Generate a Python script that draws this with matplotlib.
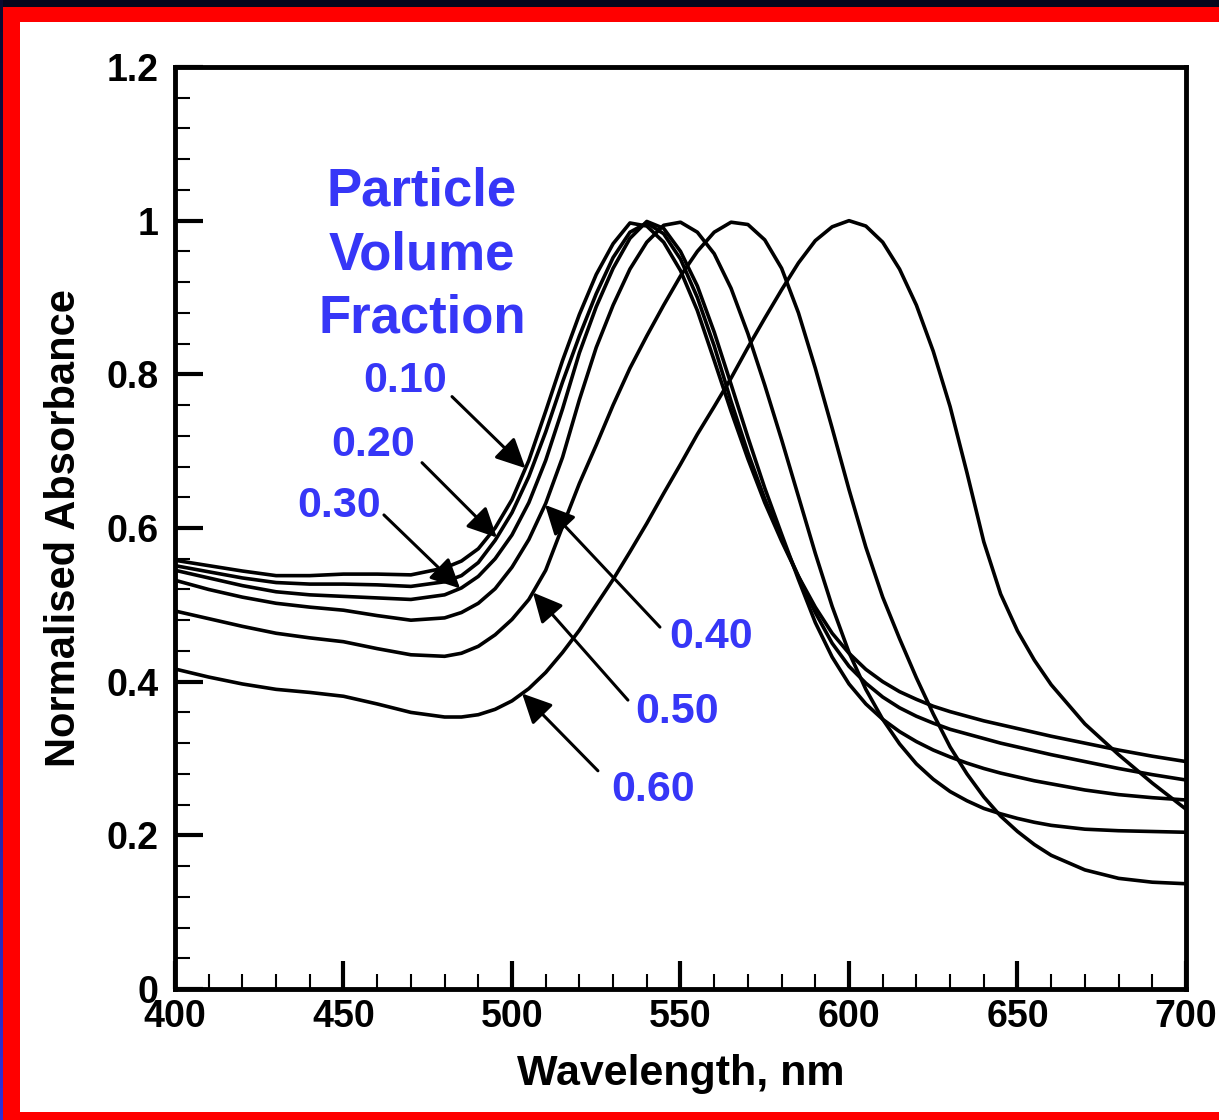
import numpy as np
import matplotlib
matplotlib.use('Agg')
import matplotlib.pyplot as plt
from matplotlib.patches import Rectangle

plt.rcParams['font.family'] = ['Liberation Sans', 'DejaVu Sans']
plt.rcParams['font.weight'] = 'bold'

# wavelength grid (nm)
wl = [400, 410, 420, 430, 440, 450, 460, 470, 480, 485, 490, 495, 500, 505, 510, 515,
      520, 525, 530, 535, 540, 545, 550, 555, 560, 565, 570, 575, 580, 585, 590, 595,
      600, 605, 610, 615, 620, 625, 630, 635, 640, 645, 650, 655, 660, 670, 680, 690, 700]

# normalised absorbance, one list per particle volume fraction
vf_010 = [.558, .551, .544, .538, .538, .540, .540, .539, .548, .557, .573, .600, .637, .688, .752, .818,
          .878, .930, .970, .997, .993, .972, .935, .883, .818, .752, .690, .633, .583, .537, .497, .463,
          .437, .416, .400, .387, .377, .368, .361, .355, .349, .344, .339, .334, .329, .320, .311, .303, .296]
vf_020 = [.551, .543, .535, .529, .527, .527, .526, .524, .530, .538, .555, .584, .620, .667, .725, .790,
          .850, .905, .952, .985, .997, .983, .950, .900, .837, .765, .698, .638, .586, .537, .490, .450,
          .420, .398, .380, .366, .355, .346, .338, .332, .326, .320, .315, .310, .305, .296, .287, .279, .272]
vf_030 = [.545, .535, .525, .517, .513, .511, .509, .507, .513, .522, .537, .560, .591, .633, .688, .755,
          .828, .888, .938, .977, .999, .990, .960, .915, .855, .787, .718, .652, .592, .533, .477, .432,
          .397, .371, .351, .335, .322, .311, .302, .294, .287, .281, .276, .271, .267, .259, .253, .249, .246]
vf_040 = [.532, .520, .510, .502, .497, .493, .486, .480, .483, .490, .502, .521, .549, .585, .632, .692,
          .767, .835, .890, .937, .972, .994, .998, .985, .957, .912, .853, .786, .715, .641, .567, .498,
          .438, .390, .351, .319, .293, .273, .257, .245, .235, .228, .222, .217, .213, .208, .206, .205, .204]
vf_050 = [.492, .482, .472, .463, .457, .452, .443, .435, .433, .437, .446, .461, .481, .507, .545, .602,
          .658, .708, .760, .808, .850, .890, .928, .960, .985, .998, .995, .975, .938, .880, .808, .730,
          .650, .575, .510, .456, .405, .358, .315, .280, .250, .225, .205, .188, .174, .155, .144, .139, .137]
vf_060 = [.4165, .406, .397, .390, .386, .381, .371, .360, .354, .354, .357, .364, .375, .391, .412, .438,
          .467, .500, .533, .569, .606, .645, .683, .722, .758, .795, .835, .873, .910, .945, .974, .992,
          1.0, .993, .972, .937, .890, .830, .758, .672, .582, .514, .466, .428, .396, .345, .305, .268, .234]

series = [vf_010, vf_020, vf_030, vf_040, vf_050, vf_060]
labels = ['0.10', '0.20', '0.30', '0.40', '0.50', '0.60']
# label text position, arrow tail, arrow tip wavelength
label_pos = [(468.2, .791), (458.8, .708), (448.7, .629), (559.1, .458), (549.0, .361), (541.8, .259)]
arrow_tail = [(482.2, .771), (473.3, .685), (462.0, .617), (543.9, .471), (534.4, .376), (525.5, .284)]
arrow_tip_wl = [504.0, 495.5, 484.6, 509.8, 506.2, 503.0]

blue = '#3636f7'
W, H = 1219, 1120

fig = plt.figure(figsize=(W / 100, H / 100), dpi=100)
fig.patch.set_facecolor('white')

def px_rect(x0, y0, x1, y1, c):
    # rectangle in pixel coords (origin top left)
    fig.add_artist(Rectangle((x0 / W, 1 - y1 / H), (x1 - x0) / W, (y1 - y0) / H,
                             transform=fig.transFigure, color=c, lw=0, zorder=0))

px_rect(0, 0, W, 7, '#06061c')
px_rect(3, 7, 20, H, '#ff0000')
px_rect(3, 7, W, 22, '#ff0000')
px_rect(3, 1112, W, H, '#ff0000')
strip = fig.add_axes([0, 0, 3 / W, 1])
strip.imshow(np.linspace(0, 1, 256).reshape(-1, 1), aspect='auto',
             cmap=matplotlib.colors.LinearSegmentedColormap.from_list('s', ['#0a0a30', '#3030d8']))
strip.axis('off')

ax = fig.add_axes([175 / W, 1 - 989 / H, (1186 - 175) / W, (989 - 67) / H])

for s in series:
    ax.plot(wl, s, color='black', lw=2.6, solid_joinstyle='round')

for lab, tp, tail, twl, s in zip(labels, label_pos, arrow_tail, arrow_tip_wl, series):
    tip = (twl, np.interp(twl, wl, s))
    ax.annotate('', xy=tip, xytext=tail,
                arrowprops=dict(arrowstyle='-|>,head_length=0.45,head_width=0.22', lw=2.2,
                                color='black', mutation_scale=40, shrinkA=0, shrinkB=0))
    ax.text(tp[0], tp[1], lab, color=blue, fontsize=31, fontweight='bold',
            ha='center', va='center')

ax.text(473.3, 0.955, 'Particle\nVolume\nFraction', color=blue, fontsize=38,
        fontweight='bold', ha='center', va='center', linespacing=1.35)

ax.set_xlim(400, 700)
ax.set_ylim(0, 1.2)
ax.set_xticks(np.arange(400, 701, 50))
ax.set_xticks(np.arange(400, 701, 10), minor=True)
ax.set_yticks(np.arange(0, 1.21, 0.2))
ax.set_yticklabels(['0', '0.2', '0.4', '0.6', '0.8', '1', '1.2'])
ax.set_yticks(np.arange(0, 1.201, 0.04), minor=True)
ax.tick_params(which='major', direction='in', length=20, width=3, labelsize=27, top=False, right=False)
ax.tick_params(which='minor', direction='in', length=11, width=1.5, top=False, right=False)
ax.tick_params(axis='x', which='major', pad=7)
ax.tick_params(axis='y', which='major', pad=12)
for lab in ax.get_xticklabels() + ax.get_yticklabels():
    lab.set_fontweight('bold')
for sp in ax.spines.values():
    sp.set_linewidth(3.5)

ax.set_xlabel('Wavelength, nm', fontsize=31, fontweight='bold', labelpad=14)
ax.set_ylabel('Normalised Absorbance', fontsize=30, fontweight='bold', labelpad=16)

fig.savefig('out.png', dpi=100)
